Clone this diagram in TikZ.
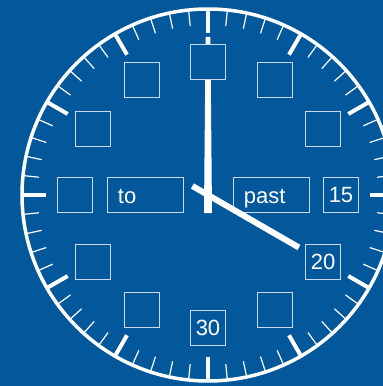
\documentclass[tikz,border=0pt]{standalone}
\usepackage{fontspec}
\setsansfont{Liberation Sans}
\usetikzlibrary{positioning,calc}
\definecolor{dial}{HTML}{03589B}
\definecolor{frame}{HTML}{CADAEA}
\tikzset{
  hourbox/.style={
    draw=frame,fill=dial,line width=.9pt,
    minimum width=35pt,minimum height=35pt,inner sep=0pt,
    text=white,font=\sffamily\fontsize{22}{24}\selectfont
  },
  wordbox/.style={
    draw=frame,fill=dial,line width=.9pt,
    text width=54pt,inner xsep=11pt,inner ysep=0pt,
    text height=16pt,text depth=0pt,
    minimum height=35pt,align=left,
    text=white,font=\sffamily\fontsize{22}{24}\selectfont
  },
  minortick/.style={draw=white,line width=1.2pt},
  majortick/.style={draw=white,line width=4pt},
  rim/.style={draw=white,line width=3.5pt},
  hand/.style={fill=white}
}
\begin{document}
\begin{tikzpicture}[x=1pt,y=1pt]
\useasboundingbox (-208,-191) rectangle (175,195);
\clip (-208,-191) rectangle (175,195);
\fill[dial] (-208,-191) rectangle (175,195);
\coordinate (c) at (0,0);
% ticks and rim
\foreach \i in {0,...,59}
  \draw[minortick] (6*\i:170) -- (6*\i:185);
\foreach \i in {0,...,11}
  \draw[majortick] (30*\i:162) -- (30*\i:185);
\draw[rim] (c) circle (186);
% words
\node[wordbox] (to) at (-63,0) {to};
\node[wordbox] (past) at (63,0) {past};
% hands
\fill[hand] (-4,-18) -- (4,-18) -- (2.4,158) -- (-2.4,158) -- cycle;
\coordinate (hourtail) at (150:18);
\coordinate (hourtip) at (-30:105);
\draw[white,line width=6pt] (hourtail) -- (hourtip);
% hour boxes
\foreach \h/\lbl in {1/,2/,3/15,4/20,5/,6/30,7/,8/,9/,10/,11/,12/}
  \node[hourbox] (h\h) at (90-30*\h:133) {\lbl};
\end{tikzpicture}
\end{document}
